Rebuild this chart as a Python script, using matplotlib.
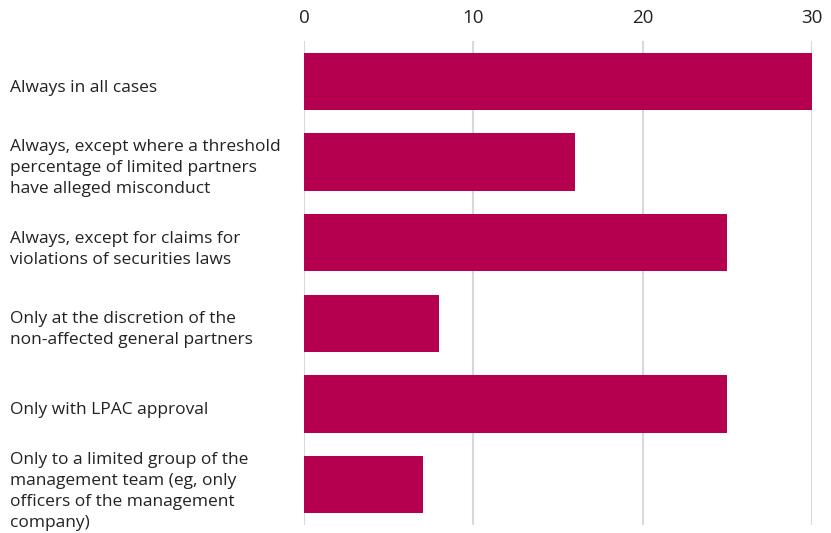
import matplotlib.pyplot as plt
from matplotlib.transforms import blended_transform_factory

categories = [
    "Always in all cases",
    "Always, except where a threshold\npercentage of limited partners\nhave alleged misconduct",
    "Always, except for claims for\nviolations of securities laws",
    "Only at the discretion of the\nnon-affected general partners",
    "Only with LPAC approval",
    "Only to a limited group of the\nmanagement team (eg, only\nofficers of the management\ncompany)",
]
values = [30, 16, 25, 8, 25, 7]
xticks = [0, 10, 20, 30]

BAR_COLOR = "#b5004f"
GRID_COLOR = "#d9d9d9"


def main():
    plt.rcParams["font.family"] = ["Open Sans", "DejaVu Sans"]

    fig = plt.figure(figsize=(8.31, 5.33), dpi=100)
    ax = fig.add_axes([304 / 831, 1 - 525 / 533, 508 / 831, 484 / 533])

    ypos = list(range(len(categories)))
    ax.barh(ypos, values, height=0.71, color=BAR_COLOR, zorder=3)

    ax.set_xlim(0, 30)
    ax.set_ylim(len(categories) - 0.5, -0.5)

    ax.set_xticks(xticks)
    ax.xaxis.tick_top()
    ax.tick_params(axis="x", length=0, pad=10, labelsize=13.5, labelcolor="#222222")
    ax.set_yticks([])
    ax.grid(axis="x", color=GRID_COLOR, linewidth=1.5, zorder=0)
    for side in ax.spines.values():
        side.set_visible(False)

    # category labels sit at the left edge of the figure
    trans = blended_transform_factory(fig.transFigure, ax.transData)
    for y, label in zip(ypos, categories):
        ax.text(10 / 831, y + 0.08, label, transform=trans, ha="left", va="center",
                fontsize=12.5, color="#222222", linespacing=1.42)

    fig.savefig("out.png", dpi=100)


if __name__ == "__main__":
    main()
